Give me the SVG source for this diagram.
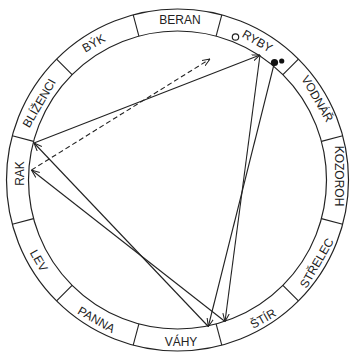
<svg xmlns="http://www.w3.org/2000/svg" width="351" height="353" viewBox="0 0 351 353">
<defs>
<style>
.ring{fill:none;stroke:#222;stroke-width:1.2}
.div{stroke:#222;stroke-width:1.1}
.lbl{font-family:"Liberation Sans",Arial,sans-serif;font-size:12px;fill:#222;text-anchor:middle}
.con{fill:none;stroke:#222;stroke-width:1.1}
.dash{stroke-dasharray:5 3}
</style>
<marker id="arr" viewBox="0 0 10 10" refX="10" refY="5" markerWidth="8" markerHeight="8" orient="auto" markerUnits="userSpaceOnUse">
<path d="M0,1 L10,5 L0,9" fill="none" stroke="#222" stroke-width="1.3" stroke-dasharray="none"/>
</marker>
</defs>
<rect width="351" height="353" fill="#fff"/>
<g id="wheel">
<circle class="ring" cx="177.5" cy="180" r="171"/>
<circle class="ring" cx="177.5" cy="180" r="149"/>
<g class="div">
<line x1="221.8" y1="14.8" x2="216.1" y2="36.1"/>
<line x1="298.4" y1="59.1" x2="282.9" y2="74.6"/>
<line x1="342.7" y1="135.7" x2="321.4" y2="141.4"/>
<line x1="342.7" y1="224.3" x2="321.4" y2="218.6"/>
<line x1="298.4" y1="300.9" x2="282.9" y2="285.4"/>
<line x1="221.8" y1="345.2" x2="216.1" y2="323.9"/>
<line x1="133.2" y1="345.2" x2="138.9" y2="323.9"/>
<line x1="56.6" y1="300.9" x2="72.1" y2="285.4"/>
<line x1="12.3" y1="224.3" x2="33.6" y2="218.6"/>
<line x1="12.3" y1="135.7" x2="33.6" y2="141.4"/>
<line x1="56.6" y1="59.1" x2="72.1" y2="74.6"/>
<line x1="133.2" y1="14.8" x2="138.9" y2="36.1"/>
</g>
</g>
<g id="beran"><text class="lbl" transform="translate(180 19.5)" y="4.3">BERAN</text></g>
<g id="byk"><text class="lbl" transform="translate(93.5 43) rotate(-30)" y="4.3">BÝK</text></g>
<g id="blizenci"><text class="lbl" transform="translate(39 103) rotate(-60)" y="4.3">BLÍŽENCI</text></g>
<g id="rak"><text class="lbl" transform="translate(20 173.5) rotate(-90)" y="4.3">RAK</text></g>
<g id="lev"><text class="lbl" transform="translate(39 260.5) rotate(60)" y="4.3">LEV</text></g>
<g id="panna"><text class="lbl" transform="translate(96.5 319.5) rotate(30)" y="4.3">PANNA</text></g>
<g id="vahy"><text class="lbl" transform="translate(181 341.5)" y="4.3">VÁHY</text></g>
<g id="stir"><text class="lbl" transform="translate(263 318.5) rotate(-30)" y="4.3">ŠTÍR</text></g>
<g id="strelec"><text class="lbl" transform="translate(316.5 263) rotate(-60)" y="4.3">STŘELEC</text></g>
<g id="kozoroh"><text class="lbl" transform="translate(339 176) rotate(90)" y="4.3">KOZOROH</text></g>
<g id="vodnar"><text class="lbl" transform="translate(317.5 98.5) rotate(60)" y="4.3">VODNÁŘ</text></g>
<g id="ryby"><text class="lbl" transform="translate(257.5 41) rotate(30)" y="4.3">RYBY</text></g>
<g id="connectors">
<line class="con" x1="34" y1="143" x2="260" y2="55" marker-end="url(#arr)"/>
<line class="con" x1="260" y1="55" x2="225" y2="321.5" marker-end="url(#arr)"/>
<line class="con" x1="274.5" y1="62.5" x2="208.3" y2="326.5" marker-end="url(#arr)"/>
<line class="con" x1="208.3" y1="326.5" x2="34" y2="143" marker-end="url(#arr)"/>
<line class="con" x1="225" y1="321.5" x2="31.5" y2="170" marker-end="url(#arr)"/>
<line class="con dash" x1="31.5" y1="170" x2="210" y2="59" marker-end="url(#arr)"/>
</g>
<g id="points">
<circle cx="235.5" cy="37" r="3.2" fill="#fff" stroke="#222" stroke-width="1.2"/>
<circle cx="274.5" cy="62.5" r="3.6" fill="#111"/>
<circle cx="281.7" cy="61" r="2.6" fill="#111"/>
</g>
</svg>
